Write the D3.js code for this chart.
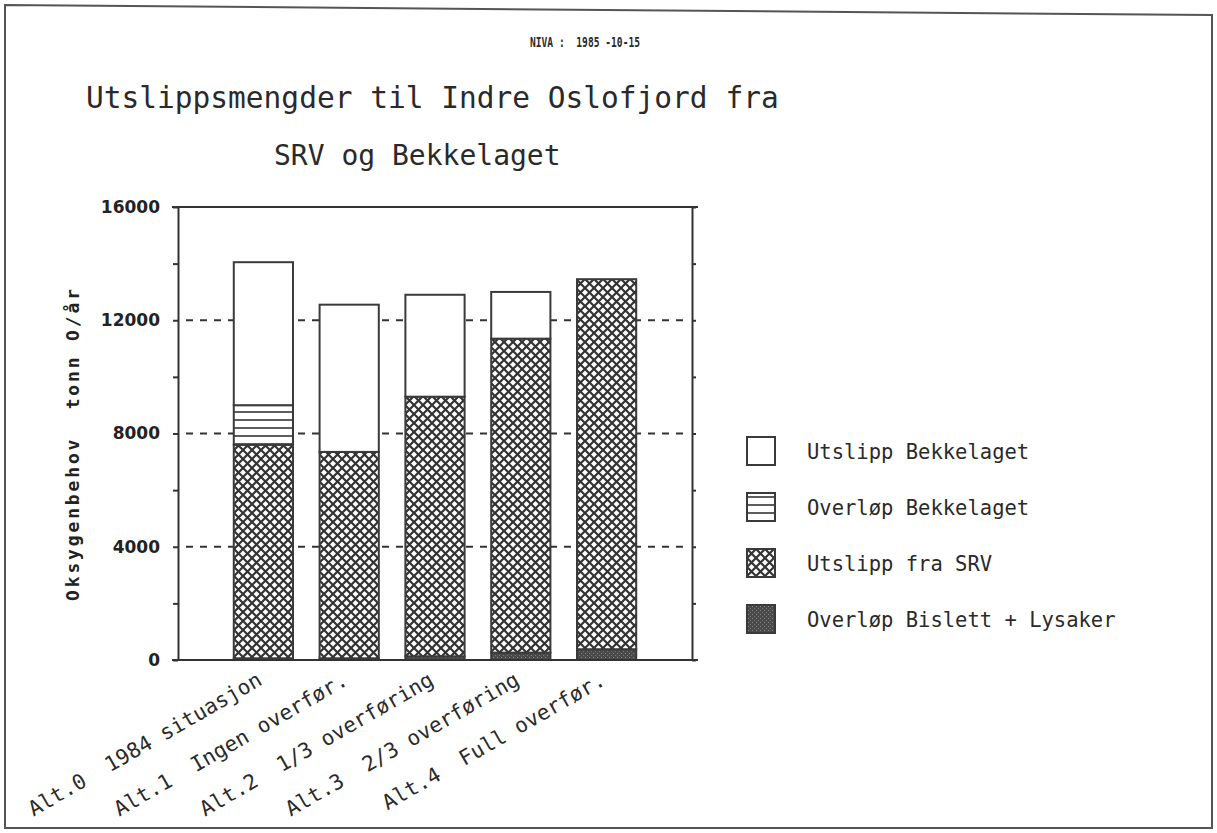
<!DOCTYPE html>
<meta charset="utf-8">
<style>
body { margin: 0; background: #fff; }
text { white-space: pre; }
.axis text { font: bold 17px "DejaVu Sans", sans-serif; fill: #222; }
.axis path, .axis line { stroke: #333; stroke-width: 2; }
.mono { font-family: "DejaVu Sans Mono", monospace; fill: #2a2a2a; }
</style>
<script src="https://cdn.jsdelivr.net/npm/d3@7/dist/d3.min.js"></script>
<body>
<script>

// data (tonn O / år)
var categories = ["Alt.0  1984 situasjon", "Alt.1  Ingen overfør.", "Alt.2  1/3 overføring",
                  "Alt.3  2/3 overføring", "Alt.4  Full overfør."];
var bislettLysaker    = [60, 60, 130, 260, 380];
var utslippSRV        = [7540, 7290, 9170, 11090, 13070];
var overlopBekkelaget = [1400, 0, 0, 0, 0];
var utslippBekkelaget = [5050, 5200, 3600, 1650, 0];
var seriesKeys  = ["bislett", "srv", "overlop", "utslipp"];
var legendNames = ["Utslipp Bekkelaget", "Overløp Bekkelaget", "Utslipp fra SRV", "Overløp Bislett + Lysaker"];
var legendKeys  = ["utslipp", "overlop", "srv", "bislett"];
var gridValues  = [4000, 8000, 12000];

var W = 1217, H = 833;
var x0 = 178, x1 = 692, yTop = 207, yBot = 660;

var svg = d3.select("body").append("svg")
    .attr("width", W)
    .attr("height", H);

var defs = svg.append("defs");

// cross hatch (SRV)
var pCross = defs.append("pattern")
    .attr("id", "cross").attr("patternUnits", "userSpaceOnUse")
    .attr("width", 9).attr("height", 9);
pCross.append("rect").attr("width", 9).attr("height", 9).attr("fill", "#fff");
pCross.append("path").attr("d", "M-1,-1L10,10M10,-1L-1,10")
    .attr("stroke", "#333").attr("stroke-width", 2.2);

// horizontal lines (Overløp Bekkelaget)
var pHoriz = defs.append("pattern")
    .attr("id", "horiz").attr("patternUnits", "userSpaceOnUse")
    .attr("width", 8).attr("height", 8);
pHoriz.append("rect").attr("width", 8).attr("height", 8).attr("fill", "#fff");
pHoriz.append("line").attr("x1", 0).attr("x2", 8).attr("y1", 4).attr("y2", 4)
    .attr("stroke", "#333").attr("stroke-width", 1.6);

// dark stipple (Bislett + Lysaker)
var pDark = defs.append("pattern")
    .attr("id", "dark").attr("patternUnits", "userSpaceOnUse")
    .attr("width", 4).attr("height", 4);
pDark.append("rect").attr("width", 4).attr("height", 4).attr("fill", "#4a4a4a");
pDark.append("rect").attr("x", 1).attr("y", 1).attr("width", 1).attr("height", 1).attr("fill", "#888");
pDark.append("rect").attr("x", 3).attr("y", 3).attr("width", 1).attr("height", 1).attr("fill", "#777");

var fills = { utslipp: "#fff", overlop: "url(#horiz)", srv: "url(#cross)", bislett: "url(#dark)" };

// page border (scanned sheet, slightly skewed)
svg.append("path")
    .attr("d", "M5,5L1212,15L1212,828L5,828Z")
    .attr("fill", "none").attr("stroke", "#555").attr("stroke-width", 2);

// header
svg.append("text").attr("class", "mono")
    .attr("x", 530).attr("y", 47)
    .attr("font-size", 14).attr("font-weight", "bold")
    .attr("textLength", 110).attr("lengthAdjust", "spacingAndGlyphs")
    .text("NIVA :  1985 -10-15");

svg.append("text").attr("class", "mono")
    .attr("x", 86).attr("y", 108)
    .attr("font-size", 29.5)
    .text("Utslippsmengder til Indre Oslofjord fra");

svg.append("text").attr("class", "mono")
    .attr("x", 274).attr("y", 165)
    .attr("font-size", 28)
    .text("SRV og Bekkelaget");

// scales
var x = d3.scaleBand()
    .domain(categories)
    .range([x0, x1])
    .paddingInner(0.31)
    .paddingOuter(0.65);

var y = d3.scaleLinear()
    .domain([0, 16000])
    .range([yBot, yTop]);

// dashed grid lines (under the bars)
svg.append("g").selectAll("line")
    .data(gridValues)
    .enter().append("line")
    .attr("x1", x0 + 8).attr("x2", x1 - 6)
    .attr("y1", function(d) { return y(d); })
    .attr("y2", function(d) { return y(d); })
    .attr("stroke", "#333").attr("stroke-width", 2)
    .attr("stroke-dasharray", "7,7");

// stacked bars
var table = categories.map(function(c, i) {
  return { cat: c, bislett: bislettLysaker[i], srv: utslippSRV[i],
           overlop: overlopBekkelaget[i], utslipp: utslippBekkelaget[i] };
});
var stacked = d3.stack().keys(seriesKeys)(table);

svg.append("g").selectAll("g")
    .data(stacked)
    .enter().append("g")
    .attr("fill", function(s) { return fills[s.key]; })
    .selectAll("rect")
    .data(function(s) { return s.filter(function(d) { return d[1] > d[0]; }); })
    .enter().append("rect")
    .attr("x", function(d) { return x(d.data.cat); })
    .attr("width", x.bandwidth())
    .attr("y", function(d) { return y(d[1]); })
    .attr("height", function(d) { return y(d[0]) - y(d[1]); })
    .attr("stroke", "#3a3a3a")
    .attr("stroke-width", 2);

// axes
var ticks = d3.range(0, 16001, 2000);

svg.append("g")
    .attr("class", "axis")
    .attr("transform", "translate(" + x0 + ",0)")
    .call(d3.axisLeft(y).tickValues(ticks).tickSize(5).tickSizeOuter(0).tickPadding(13)
      .tickFormat(function(d) { return d % 4000 === 0 ? d : ""; }));

svg.append("g")
    .attr("class", "axis")
    .attr("transform", "translate(" + x1 + ",0)")
    .call(d3.axisRight(y).tickValues(ticks).tickSize(4).tickSizeOuter(0)
      .tickFormat(""));

// top and bottom frame lines
svg.append("g").selectAll("line")
    .data([16000, 0])
    .enter().append("line")
    .attr("x1", x0 - 6).attr("x2", x1 + 6)
    .attr("y1", function(d) { return y(d); })
    .attr("y2", function(d) { return y(d); })
    .attr("stroke", "#333").attr("stroke-width", 2);

// y label
svg.append("text")
    .attr("transform", "translate(79,445) rotate(-90)")
    .attr("text-anchor", "middle")
    .attr("font-family", "DejaVu Sans Mono, monospace")
    .attr("font-weight", "bold")
    .attr("font-size", 18)
    .attr("fill", "#222")
    .attr("textLength", 312).attr("lengthAdjust", "spacing")
    .text("Oksygenbehov  tonn O/år");

// category labels, slanted
svg.append("g").selectAll("text")
    .data(categories)
    .enter().append("text")
    .attr("class", "mono")
    .attr("transform", function(d) {
      return "translate(" + (x(d) + x.bandwidth() / 2) + ",684) rotate(-30)";
    })
    .attr("text-anchor", "end")
    .attr("font-size", 21)
    .text(function(d) { return d; });

// legend
var legend = svg.append("g").selectAll("g")
    .data(legendKeys)
    .enter().append("g")
    .attr("transform", function(d, i) { return "translate(747," + (437 + i * 56) + ")"; });

legend.append("rect")
    .attr("width", 28).attr("height", 28)
    .attr("fill", function(d) { return fills[d]; })
    .attr("stroke", "#3a3a3a").attr("stroke-width", 2);

legend.append("text")
    .attr("class", "mono")
    .attr("x", 60).attr("y", 22)
    .attr("font-size", 20.5)
    .text(function(d, i) { return legendNames[i]; });

</script>
</body>
